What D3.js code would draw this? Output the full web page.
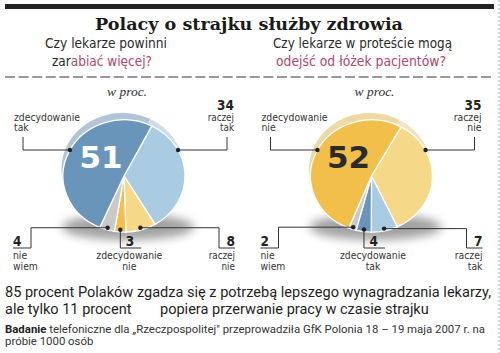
<!DOCTYPE html>
<html><head><meta charset="utf-8">
<script src="https://cdn.jsdelivr.net/npm/d3@7"></script>
<style>body{margin:0;background:#fff}svg{display:block}</style>
</head><body><svg id="c" width="500" height="353"></svg>
<script>
// ---- data ----
const title = "Polacy o strajku służby zdrowia";
const questionLeft = ["Czy lekarze powinni", "zar", "abiać więcej?"];
const questionRight = ["Czy lekarze w proteście mogą", "odejść od łóżek pacjentów?"];
const unitLabel = "w proc.";
const answersLeft = ["raczej tak", "raczej nie", "zdecydowanie nie", "nie wiem", "zdecydowanie tak"];
const valuesLeft = [34, 8, 3, 4, 51];
const answersRight = ["raczej nie", "raczej tak", "zdecydowanie tak", "nie wiem", "zdecydowanie nie"];
const valuesRight = [35, 7, 4, 2, 52];
const summary1 = "85 procent Polaków zgadza się z potrzebą lepszego wynagradzania lekarzy,";
const summary2a = "ale tylko 11 procent";
const summary2b = "popiera przerwanie pracy w czasie strajku";
const sourceBold = "Badanie";
const sourceRest = " telefoniczne dla „Rzeczpospolitej\" przeprowadziła GfK Polonia 18 – 19 maja 2007 r. na";
const sourceLine2 = "próbie 1000 osób";

// ---- style ----
const colorOf = {
  "zdecydowanie tak": "#6a95bb",
  "raczej tak": "#a9cce2",
  "raczej nie": "#f6d889",
  "zdecydowanie nie": "#f1bf4a",
  "nie wiem": "#c9c9c9"
};
const pink = "#b0466b", ink = "#2a2a2a";
const condensed = "'Liberation Sans Narrow','DejaVu Sans Condensed','DejaVu Sans',sans-serif";
const slots = ["topRight", "bottomRight", "bottomMid", "bottomLeft", "topLeft"];

const svg = d3.select("#c");
const defs = svg.append("defs");
defs.append("filter").attr("id", "blur").attr("x", "-50%").attr("y", "-100%").attr("width", "200%").attr("height", "300%")
  .append("feGaussianBlur").attr("stdDeviation", 5);

function squeezeTo(sel, target) {
  const L = sel.node().getComputedTextLength();
  sel.attr("textLength", target).attr("lengthAdjust", "spacingAndGlyphs");
  return target / L;
}
function squeezeBy(sel, k) {
  const L = sel.node().getComputedTextLength();
  sel.attr("textLength", L * k).attr("lengthAdjust", "spacingAndGlyphs");
}
// shrink font size (never grow) so the natural width fits the target, return the scale
function fitSize(sel, target) {
  const fs = parseFloat(sel.attr("font-size"));
  const L = sel.node().getComputedTextLength();
  const k = Math.min(1, target / L);
  sel.attr("font-size", fs * k);
  return k;
}

// top bar
svg.append("rect").attr("x", 5).attr("y", 4).attr("width", 489).attr("height", 5).attr("fill", "#222");
// right edge stripe
svg.append("line").attr("x1", 499).attr("x2", 499).attr("y1", 0).attr("y2", 353)
  .attr("stroke", "#c6e0f2").attr("stroke-width", 2).attr("stroke-dasharray", "2,2");

// title
const t = svg.append("text").attr("x", 249).attr("y", 30).attr("text-anchor", "middle")
  .attr("font-family", "'DejaVu Serif',serif").attr("font-weight", "bold").attr("font-size", 17.5)
  .attr("fill", "#1a1a1a").text(title);
squeezeTo(t, 308);

// questions
const qfs = 14.5;
const qa = svg.append("text").attr("x", 45).attr("y", 48).attr("font-family", condensed).attr("font-size", qfs).attr("fill", ink).text(questionLeft[0]);
squeezeTo(qa, 122);
const qb = svg.append("text").attr("x", 52).attr("y", 66).attr("font-family", condensed).attr("font-size", qfs).attr("fill", ink);
qb.append("tspan").text(questionLeft[1]);
qb.append("tspan").attr("fill", pink).text(questionLeft[2]);
squeezeTo(qb, 100);
const qc = svg.append("text").attr("x", 273).attr("y", 48).attr("font-family", condensed).attr("font-size", qfs).attr("fill", ink).text(questionRight[0]);
squeezeTo(qc, 179);
const qd = svg.append("text").attr("x", 276).attr("y", 66).attr("font-family", condensed).attr("font-size", qfs).attr("fill", pink).text(questionRight[1]);
squeezeTo(qd, 170);

// dashed separator
svg.append("line").attr("x1", 5).attr("x2", 494).attr("y1", 77).attr("y2", 77)
  .attr("stroke", "#333").attr("stroke-width", 1).attr("stroke-dasharray", "10,3.6");

const R = 61, SY = 0.92;
let kLabel = null;

function drawPie(cx, cy, answers, values, startDeg, bigColor) {
  const a0 = startDeg * Math.PI / 180;
  const pie = d3.pie().sort(null).startAngle(a0).endAngle(a0 + 2 * Math.PI);
  const arcs = pie(values);
  const arc = d3.arc().innerRadius(0).outerRadius(R);
  const g = svg.append("g").attr("transform", `translate(${cx},${cy})`);

  // shadow
  g.append("ellipse").attr("cx", 4).attr("cy", 51).attr("rx", 66).attr("ry", 13)
    .attr("fill", "#7a7a7a").attr("opacity", 0.7).attr("filter", "url(#blur)");

  // back rim (lighter copy)
  g.append("g").attr("transform", `translate(-1.5,-7) scale(1,${SY})`)
    .selectAll("path").data(arcs).join("path")
    .attr("d", arc)
    .attr("fill", (d, i) => d3.interpolateRgb(colorOf[answers[i]], "#ececec")(0.55));

  // main pie
  g.append("g").attr("transform", `scale(1,${SY})`)
    .selectAll("path").data(arcs).join("path")
    .attr("d", arc)
    .attr("fill", (d, i) => colorOf[answers[i]])
    .attr("stroke", "#fff").attr("stroke-width", 1.3).attr("vector-effect", "non-scaling-stroke");

  // unit label
  g.append("text").attr("x", 3).attr("y", -80).attr("text-anchor", "middle")
    .attr("font-family", "'Liberation Serif','DejaVu Serif',serif").attr("font-style", "italic")
    .attr("font-size", 13.5).attr("fill", "#333").text(unitLabel);

  const lineG = g.append("g").attr("fill", "none").attr("stroke", "#333").attr("stroke-width", 1);
  const textStyle = s => s.attr("font-family", condensed).attr("font-size", 9.8).attr("fill", "#333");
  const numStyle = s => s.attr("font-family", condensed).attr("font-weight", "bold").attr("font-size", 13.5).attr("fill", "#222");

  function addLines(x, ys, words, anchor) {
    words.forEach((w, j) => {
      const tx = g.append("text").attr("x", x).attr("y", ys[j]).attr("text-anchor", anchor).call(textStyle).text(w);
      if (kLabel === null) {
        if (w.length >= 10) kLabel = squeezeTo(tx, 66);
      } else squeezeBy(tx, kLabel);
    });
  }

  arcs.forEach((d, i) => {
    const slot = slots[i];
    const words = answers[i].split(" ");
    const mid = (d.startAngle + d.endAngle) / 2;
    if (slot === "topLeft" || slot === "topRight") {
      const side = slot === "topLeft" ? -1 : 1;
      const dy = -26;
      const dx = side * R * Math.sqrt(1 - Math.pow(dy / (R * SY), 2));
      const lx = side === -1 ? -101 : 103;
      lineG.append("path").attr("d", `M${dx},${dy}H${lx}V-39`);
      g.append("circle").attr("cx", dx).attr("cy", dy).attr("r", 2.2).attr("fill", "#222");
      const tx = side === -1 ? -110 : 110;
      const anchor = side === -1 ? "start" : "end";
      if (slot === "topRight") {
        g.append("text").attr("x", tx).attr("y", -66.5).attr("text-anchor", anchor).call(numStyle).text(values[i]);
      }
      addLines(tx, [-55.5, -45], words, anchor);
    } else {
      const px = Math.sin(mid) * R * 0.96;
      const py = -Math.cos(mid) * R * 0.96 * SY;
      g.append("circle").attr("cx", px).attr("cy", py).attr("r", 2.2).attr("fill", "#222");
      if (slot === "bottomLeft") {
        lineG.append("path").attr("d", `M-111,72H-93V${py}H${px}`);
        g.append("text").attr("x", -111).attr("y", 70).call(numStyle).text(values[i]);
        addLines(-111, [83, 93.5], words, "start");
      } else if (slot === "bottomMid") {
        lineG.append("path").attr("d", `M${px},${py}V72H${px + 21}`);
        g.append("text").attr("x", px + 5.5).attr("y", 70).call(numStyle).text(values[i]);
        addLines(px + 9, [83, 93.5], words, "middle");
      } else {
        lineG.append("path").attr("d", `M${px},${py}H95V72H111`);
        g.append("text").attr("x", 111).attr("y", 70).attr("text-anchor", "end").call(numStyle).text(values[i]);
        addLines(111, [83, 93.5], words, "end");
      }
    }
  });

  // big number in the largest slice
  const bi = values.indexOf(d3.max(values));
  g.append("text").attr("x", -23).attr("y", -8).attr("text-anchor", "middle")
    .attr("font-family", "'DejaVu Sans',sans-serif").attr("font-weight", "bold").attr("font-size", 31)
    .attr("fill", bigColor).text(values[bi]);
}

drawPie(124, 176, answersLeft, valuesLeft, 27, "#ffffff");
drawPie(371.5, 176, answersRight, valuesRight, 29, "#2b2b2b");

// summary
const bodyFont = "Roboto,'Open Sans',sans-serif";
const s1 = svg.append("text").attr("x", 5).attr("y", 297).attr("font-family", bodyFont).attr("font-size", 15.5).attr("fill", "#1e1e1e").text(summary1);
const ks = fitSize(s1, 486);
const sfs = 15.5 * ks;
const kb = squeezeTo(s1, 486);
const s2 = svg.append("text").attr("x", 5).attr("y", 313.5).attr("font-family", bodyFont).attr("font-size", sfs).attr("fill", "#1e1e1e").text(summary2a);
squeezeBy(s2, kb);
const s3 = svg.append("text").attr("x", 160).attr("y", 313.5).attr("font-family", bodyFont).attr("font-size", sfs).attr("fill", "#1e1e1e").text(summary2b);
squeezeBy(s3, kb);

// source
const f1 = svg.append("text").attr("x", 5).attr("y", 333).attr("font-family", bodyFont).attr("font-size", 11).attr("fill", "#333");
f1.append("tspan").attr("font-weight", "bold").attr("fill", "#222").text(sourceBold);
f1.append("tspan").text(sourceRest);
const kf0 = fitSize(f1, 480);
const kf = squeezeTo(f1, 480);
const f2 = svg.append("text").attr("x", 5).attr("y", 345).attr("font-family", bodyFont).attr("font-size", 11 * kf0).attr("fill", "#333").text(sourceLine2);
squeezeBy(f2, kf);
</script></body></html>
